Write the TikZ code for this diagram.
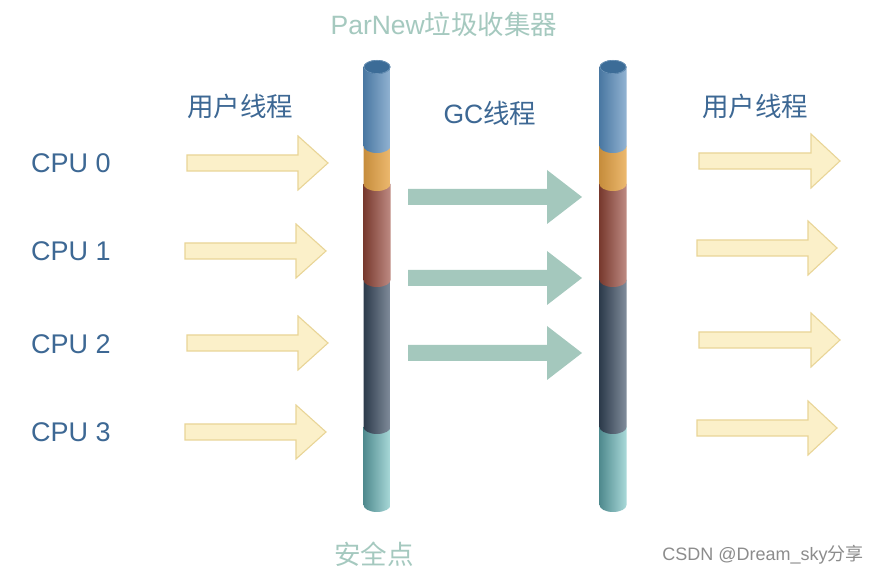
\documentclass[tikz,border=0pt]{standalone}
\usepackage{fontspec}
\setmainfont{Liberation Sans}
\newfontfamily\cjk{Noto Sans CJK SC}
\definecolor{txtblue}{HTML}{3D6894}
\definecolor{txtgreen}{HTML}{A5C9BF}
\definecolor{yfill}{HTML}{FBF0C9}
\definecolor{ydraw}{HTML}{E9D597}
\definecolor{gfill}{HTML}{A4C8BD}
\definecolor{blueL}{HTML}{4A78A2}
\definecolor{blueR}{HTML}{92B3D2}
\definecolor{blueTop}{HTML}{3C6C97}
\definecolor{orL}{HTML}{C68D3C}
\definecolor{orR}{HTML}{EDB96F}
\definecolor{redL}{HTML}{783A2E}
\definecolor{redR}{HTML}{BE8B83}
\definecolor{dkL}{HTML}{2C3A4B}
\definecolor{dkR}{HTML}{818D9B}
\definecolor{tlL}{HTML}{4F8A8E}
\definecolor{tlR}{HTML}{A9D9D9}
\tikzset{
  yarrow/.style={fill=yfill,draw=ydraw,line width=1.1pt,line join=miter},
  garrow/.style={fill=gfill},
  bluetxt/.style={text=txtblue,font=\fontsize{26.5}{30}\selectfont,inner sep=0pt},
  cputxt/.style={text=txtblue,font=\fontsize{27}{30}\selectfont,inner sep=0pt},
  greentxt/.style={text=txtgreen,font=\fontsize{26.5}{30}\selectfont,inner sep=0pt},
  marktxt/.style={text=black!45,font=\fontsize{18}{20}\selectfont,inner sep=0pt},
}
% style, x1, xhead, xtip, y center (px from top)
\newcommand\blkarrow[5]{%
  \path[#1] (#2,{577-#5+8}) -- (#3,{577-#5+8}) -- (#3,{577-#5+27}) -- (#4,{577-#5})
    -- (#3,{577-#5-27}) -- (#3,{577-#5-8}) -- (#2,{577-#5-8}) -- cycle;}
% cx, ytop px, ybottom px, left colour, right colour
\newcommand\cylseg[5]{%
  \shade[left color=#4,right color=#5] ({#1-13.5},{577-#2}) -- ({#1-13.5},{577-#3})
    arc[start angle=180,end angle=360,x radius=13.5,y radius=7] -- ({#1+13.5},{577-#2}) -- cycle;}
\newcommand\cylinder[1]{%
  \cylseg{#1}{427}{505}{tlL}{tlR}
  \cylseg{#1}{280}{427}{dkL}{dkR}
  \cylseg{#1}{184}{280}{redL}{redR}
  \cylseg{#1}{146}{184}{orL}{orR}
  \cylseg{#1}{67}{146}{blueL}{blueR}
  \fill[blueTop] (#1,{577-67}) ellipse[x radius=13.5,y radius=7];
  \draw[blueR!60!blueTop,line width=0.6pt] (#1,{577-67}) ellipse[x radius=13,y radius=6.6];}
\begin{document}
\begin{tikzpicture}[x=1pt,y=1pt]
\useasboundingbox (0,0) rectangle (883,577);
\fill[white] (0,0) rectangle (883,577);

% titles
\node[greentxt] (title) at (444,{577-24}) {ParNew{\cjk 垃圾收集器}};
\node[bluetxt] (userL) at (240,{577-106}) {\cjk 用户线程};
\node[bluetxt] (gc) at (490,{577-113}) {GC{\cjk 线程}};
\node[bluetxt] (userR) at (755,{577-106}) {\cjk 用户线程};
\node[greentxt] (safe) at (374,{577-554}) {\cjk 安全点};
\node[marktxt] (mark) at (763,{577-555}) {CSDN @Dream\_sky{\cjk 分享}};

% CPU labels
\node[cputxt,anchor=west] (cpu0) at (31,{577-163}) {CPU 0};
\node[cputxt,anchor=west] (cpu1) at (31,{577-251}) {CPU 1};
\node[cputxt,anchor=west] (cpu2) at (31,{577-344}) {CPU 2};
\node[cputxt,anchor=west] (cpu3) at (31,{577-432}) {CPU 3};

% left yellow arrows
\blkarrow{yarrow}{187}{298}{328}{163}
\blkarrow{yarrow}{185}{296}{326}{251}
\blkarrow{yarrow}{187}{298}{328}{343}
\blkarrow{yarrow}{185}{296}{326}{432}

% right yellow arrows
\blkarrow{yarrow}{699}{811}{840}{161}
\blkarrow{yarrow}{697}{808}{837}{248}
\blkarrow{yarrow}{699}{811}{840}{340}
\blkarrow{yarrow}{697}{808}{837}{428}

% green GC arrows
\blkarrow{garrow}{408}{547}{582}{197}
\blkarrow{garrow}{408}{547}{582}{278}
\blkarrow{garrow}{408}{547}{582}{353}

% cylinders (safe points)
\cylinder{377}
\cylinder{613}
\end{tikzpicture}
\end{document}
